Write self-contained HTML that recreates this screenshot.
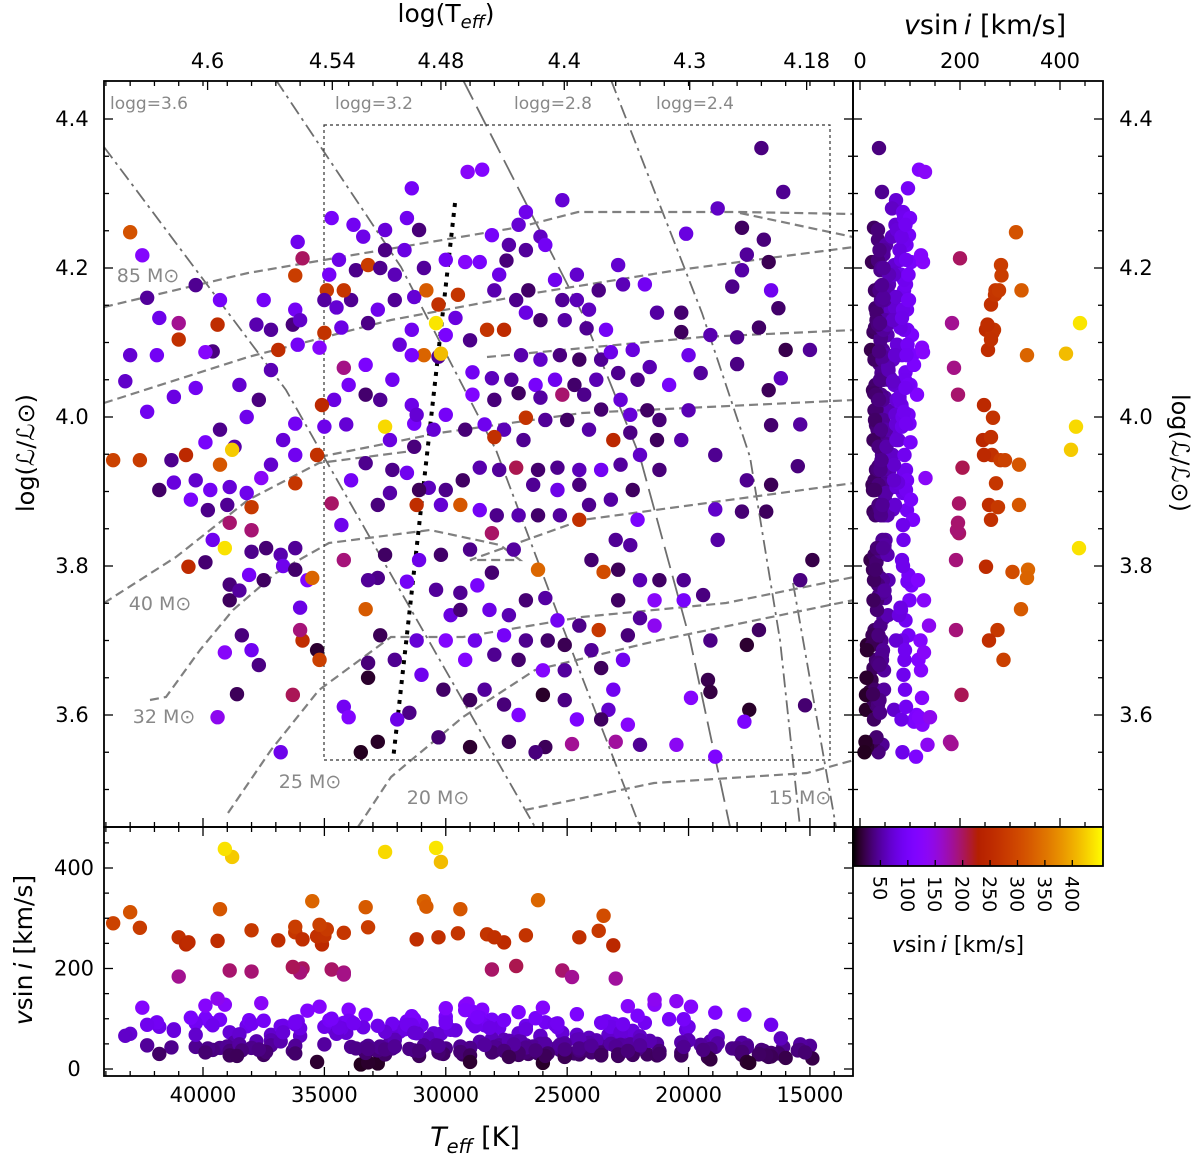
<!DOCTYPE html>
<html><head><meta charset="utf-8">
<style>
html,body{margin:0;padding:0;background:#fff;}
svg{display:block;font-family:"DejaVu Sans","Liberation Sans",sans-serif;}
</style></head>
<body>
<svg id="fig" width="1200" height="1156" viewBox="0 0 1200 1156" xmlns="http://www.w3.org/2000/svg">
<defs>
<clipPath id="cMain"><rect x="104" y="81" width="749" height="746"/></clipPath>
<clipPath id="cBot"><rect x="104" y="827" width="749" height="249"/></clipPath>
<clipPath id="cRight"><rect x="853" y="81" width="250" height="746"/></clipPath>
<linearGradient id="cbGrad" x1="0" x2="1" y1="0" y2="0"></linearGradient>
</defs>
<g id="gLines" clip-path="url(#cMain)"></g>
<g id="gMain" clip-path="url(#cMain)"></g>
<g id="gBot" clip-path="url(#cBot)"></g>
<g id="gRight" clip-path="url(#cRight)"></g>
<g id="gAxes"></g>
</svg>
<script>
// ---- data: each star = (Teff [kK], log L, vsini [km/s]) ----
const teffK = [
17.0,28.5,29.1,16.1,25.2,31.4,18.8,20.1,17.8,16.9,17.6,17.8,16.7,18.2,16.6,16.3,22.9,22.7,21.8,21.3,20.3,20.3,19.1,18.0,17.1,16.0,15.0,18.0,16.2,16.7,20.0,19.5,20.8,20.0,21.2,21.7,22.4,20.3,18.9,16.6,15.4,15.5,16.6,17.6,17.8,16.8,18.9,18.8,14.9,15.4,17.1,17.6,19.1,19.2,19.1,19.9,17.5,17.7,15.2,18.9,20.5,22.0,23.0,23.3,23.1,
26.7,27.0,28.1,27.4,26.1,25.9,26.7,27.5,27.8,28.6,29.2,28.0,27.1,26.6,25.5,25.2,24.6,24.6,23.7,24.1,23.4,24.2,25.1,26.1,26.7,27.6,28.3,29.0,30.0,29.6,
26.9,26.1,25.3,24.5,23.6,23.2,22.3,22.9,23.8,24.7,25.5,26.3,27.3,28.1,28.9,28.9,28.0,27.0,26.1,25.2,24.3,23.6,22.8,22.1,21.6,
26.7,26.8,27.6,28.4,29.2,30.0,30.5,25.9,25.0,24.1,23.1,22.4,21.3,22.0,22.8,23.6,24.5,25.4,26.2,27.1,27.8,28.6,29.3,30.0,30.7,31.1,26.4,25.4,24.5,24.1,23.2,22.3,21.2,
24.5,25.3,26.2,27.0,27.9,28.6,29.4,30.2,31.2,31.6,31.3,22.1,23.0,24.0,22.4,22.9,23.5,22.0,21.2,21.4,20.2,20.2,19.4,22.9,22.0,23.7,24.5,25.4,25.9,26.7,27.4,28.2,27.6,26.7,25.8,25.1,24.0,22.5,21.4,22.7,23.6,25.1,26.0,27.0,28.0,28.8,29.2,
29.8,29.4,28.7,28.1,27.2,26.2,28.1,29.0,30.2,31.1,31.6,30.4,29.4,30.0,31.2,32.7,32.1,31.0,30.1,29.0,28.4,27.6,27.0,26.0,25.1,24.6,23.6,22.5,25.9,26.3,24.8,27.4,29.0,30.3,31.5,32.0,32.8,33.5,34.2,34.0,33.2,33.2,33.3,32.8,32.5,33.2,
34.2,34.3,34.7,33.9,33.3,32.8,32.3,32.2,32.5,32.3,31.3,31.4,31.2,30.9,30.3,30.4,30.3,29.5,31.4,31.4,31.9,32.2,32.7,33.3,33.3,34.2,34.0,34.6,35.1,34.1,35.0,35.3,36.2,36.2,37.2,37.6,38.0,38.0,38.2,38.9,39.7,39.3,39.9,39.3,38.7,38.2,38.5,37.7,37.2,36.9,37.2,37.8,36.3,36.1,35.2,35.0,34.3,34.5,33.9,34.2,34.9,35.0,36.2,36.0,36.2,35.9,36.1,34.8,34.4,33.7,33.2,32.7,32.1,32.5,31.7,30.9,30.0,31.1,31.6,32.5,33.4,34.7,33.8,31.3,32.1,32.8,33.2,30.8,28.0,38.8,30.2,
43.0,42.5,42.3,41.8,43.0,41.9,43.2,42.3,41.2,41.0,41.0,40.3,39.3,39.4,39.6,39.9,40.3,40.7,41.3,41.8,42.6,43.7,41.2,40.3,40.5,39.8,39.6,39.1,38.9,39.0,39.9,40.6,38.9,38.9,38.5,38.1,37.5,38.0,37.4,36.8,36.7,36.2,36.2,35.7,35.5,36.0,35.9,36.0,35.3,35.2,36.3,37.7,38.0,38.4,38.6,39.1,39.4,36.8,36.2,36.7,37.5
];
const logL = [
4.361,4.332,4.329,4.302,4.291,4.307,4.28,4.246,4.254,4.238,4.218,4.197,4.208,4.175,4.17,4.146,4.204,4.178,4.178,4.14,4.14,4.114,4.11,4.107,4.12,4.09,4.09,4.071,4.052,4.036,4.083,4.059,4.043,4.009,3.996,4.009,4.003,3.969,3.949,3.989,3.99,3.934,3.909,3.915,3.873,3.873,3.876,3.835,3.808,3.781,3.714,3.694,3.70,3.647,3.631,3.623,3.607,3.591,3.613,3.544,3.56,3.56,3.564,3.607,3.634,
4.275,4.258,4.244,4.231,4.242,4.231,4.224,4.21,4.191,4.208,4.208,4.17,4.157,4.17,4.184,4.157,4.191,4.157,4.17,4.144,4.117,4.119,4.13,4.13,4.14,4.117,4.117,4.103,4.11,4.133,
4.083,4.077,4.083,4.077,4.077,4.087,4.09,4.059,4.05,4.043,4.05,4.043,4.05,4.052,4.06,4.03,4.023,4.032,4.026,4.03,4.03,4.01,4.023,4.05,4.067,
3.999,3.969,3.983,3.99,3.983,4.003,3.983,3.996,3.996,3.983,3.969,3.979,3.969,3.949,3.936,3.929,3.929,3.932,3.929,3.932,3.929,3.932,3.915,3.902,3.905,3.902,3.909,3.902,3.909,3.882,3.889,3.902,3.929,
3.862,3.868,3.868,3.868,3.868,3.875,3.882,3.882,3.882,3.925,3.96,3.862,3.835,3.808,3.828,3.795,3.792,3.781,3.781,3.754,3.781,3.754,3.761,3.754,3.73,3.714,3.72,3.727,3.757,3.754,3.734,3.741,3.707,3.70,3.70,3.694,3.687,3.707,3.72,3.674,3.663,3.66,3.66,3.674,3.681,3.70,3.674,
3.734,3.764,3.774,3.791,3.822,3.795,3.844,3.822,3.815,3.808,3.779,3.768,3.741,3.70,3.70,3.707,3.674,3.654,3.634,3.62,3.634,3.614,3.60,3.627,3.62,3.594,3.594,3.587,3.557,3.55,3.561,3.564,3.557,3.57,3.603,3.594,3.564,3.55,3.611,3.597,3.67,3.65,3.742,3.784,3.815,3.781,
3.808,3.855,3.884,3.915,3.938,3.882,3.898,3.929,3.987,3.969,3.991,4.016,4.003,4.083,4.081,4.126,4.151,4.164,4.083,4.117,4.097,4.05,4.023,4.03,4.07,4.066,4.043,4.023,4.016,3.99,3.987,3.949,3.949,3.911,3.936,3.918,3.879,3.848,3.898,3.906,3.902,3.936,3.966,3.983,3.96,4.0,4.043,4.023,4.063,4.09,4.117,4.124,4.124,4.097,4.093,4.113,4.12,4.147,4.157,4.17,4.17,4.157,4.144,4.13,4.19,4.213,4.235,4.191,4.211,4.197,4.204,4.2,4.191,4.224,4.224,4.2,4.211,4.251,4.267,4.251,4.242,4.267,4.258,4.161,4.157,4.144,4.126,4.17,3.973,3.956,4.085,
4.248,4.217,4.16,4.133,4.083,4.083,4.048,4.007,4.027,4.104,4.126,4.177,4.157,4.124,4.088,4.087,4.039,3.949,3.942,3.902,3.942,3.942,3.912,3.915,3.889,3.875,3.835,3.824,3.858,3.882,3.805,3.799,3.775,3.754,3.767,3.788,3.781,3.819,3.824,3.815,3.8,3.824,3.795,3.781,3.784,3.744,3.70,3.714,3.687,3.674,3.627,3.667,3.687,3.707,3.628,3.684,3.597,3.55,3.991,3.969,4.157
];
const vsini = [
38,118,130,44,72,96,64,78,28,36,47,52,24,41,88,31,69,58,92,50,33,27,55,42,30,22,46,39,61,26,84,48,99,57,35,29,73,53,44,32,49,37,25,43,34,27,66,51,21,38,29,14,40,23,19,124,12,108,33,112,135,45,180,68,90,
86,71,98,52,64,93,47,36,82,102,126,55,42,30,88,46,68,58,39,62,95,44,51,33,79,252,268,41,104,77,
54,66,38,29,45,84,76,43,57,31,89,101,47,60,91,114,36,28,50,196,42,33,73,40,56,
266,44,58,87,35,97,71,46,30,52,246,39,27,65,48,92,59,43,32,205,47,54,29,41,61,26,45,83,37,43,50,28,36,
262,48,31,55,42,94,318,70,258,88,37,106,45,33,49,26,305,57,30,128,44,99,38,29,47,275,41,91,50,34,56,82,97,43,31,24,46,36,138,89,27,48,122,32,44,85,117,
78,45,103,33,49,336,198,42,31,84,95,47,34,121,72,25,44,87,30,27,48,36,113,12,39,109,28,125,26,37,183,24,14,33,40,83,11,9,92,118,36,13,322,41,29,46,
192,86,198,94,43,37,52,41,432,77,99,83,71,334,46,440,262,270,105,88,74,90,45,32,108,188,96,79,248,72,84,264,89,272,68,131,276,194,86,73,92,318,101,42,53,85,69,38,57,256,47,55,36,95,124,265,81,70,44,271,278,49,94,66,283,200,87,97,82,41,282,43,58,39,79,47,92,36,88,74,83,100,91,72,45,86,40,323,262,422,412,
312,122,47,84,70,93,66,88,79,262,184,44,98,255,38,126,91,248,43,30,281,290,76,68,102,41,87,438,196,45,33,252,36,27,49,97,28,42,34,55,86,46,31,116,334,81,258,192,14,287,203,39,90,37,26,128,140,85,92,73,96
];
// axis tick values
const teffTicks = [40000,35000,30000,25000,20000,15000];
const logTeffTicks = [4.6,4.54,4.48,4.4,4.3,4.18];
const lumTicks = [3.6,3.8,4.0,4.2,4.4];
const vTicks = [0,200,400];
const cbTicks = [50,100,150,200,250,300,350,400];

// ---- scales ----
const xT = t => 203 + (40000 - t) / 41.19;
const yL = l => 119 + (4.4 - l) * 745;
const xV = v => 860 + v * 0.5;
const yV = v => 1069 - v * 0.5025;
const VMAX = 456;
function cmap(v){
  let x = Math.max(0, Math.min(1, v / VMAX));
  const r = Math.sqrt(x), g = x*x*x, b = Math.max(0, Math.sin(2*Math.PI*x));
  return `rgb(${Math.round(r*255)},${Math.round(g*255)},${Math.round(b*255)})`;
}
const NS = 'http://www.w3.org/2000/svg';
function mk(tag, attrs, parent){
  const e = document.createElementNS(NS, tag);
  for (const k in attrs) e.setAttribute(k, attrs[k]);
  parent.appendChild(e); return e;
}
const gLines = document.getElementById('gLines');
const gMain = document.getElementById('gMain');
const gBot = document.getElementById('gBot');
const gRight = document.getElementById('gRight');
const gAxes = document.getElementById('gAxes');

// ---- model lines (pixel-sketched decorations) ----
const iso = [
 {p:[[104,147],[286,390],[324,457],[535,827]], d:'14,5,3,5'},
 {p:[[276,80],[401,267],[496,450],[560,620],[640,827]], d:'14,5,3,5'},
 {p:[[463,80],[582,313],[640,457],[690,640],[730,827]], d:'22,8'},
 {p:[[611,80],[702,313],[750,457],[780,640],[800,827]], d:'14,5,3,5'},
 {p:[[793,583],[836,827]], d:'14,5,3,5'}
];
iso.forEach(o=>{
  const pl = mk('polyline',{points:o.p.map(q=>q.join(',')).join(' '),fill:'none',stroke:'#6e6e6e','stroke-width':1.8,'stroke-dasharray':o.d},gLines);
  
  
});
const tracks = [
 [[104,307],[248,273],[353,255],[520,227],[578,212],[740,212],[853,214]],
 [[740,213],[853,237]],
 [[104,403],[248,357],[391,320],[535,293],[678,270],[854,247]],
 [[487,357],[702,337],[854,330]],
 [[319,457],[439,433],[582,413],[854,400]],
 [[104,603],[176,557],[248,500],[319,463],[420,450]],
 [[150,700],[166,697],[200,650],[233,610],[276,573],[329,543],[430,530],[500,545],[520,560],[470,560],[582,520],[854,483]],
 [[228,813],[271,750],[319,690],[391,637],[463,637],[582,617],[726,603],[854,577]],
 [[358,827],[391,777],[463,717],[535,670],[660,640],[854,600]],
 [[525,810],[654,783],[807,773],[854,760]]
];
tracks.forEach(t=>{
  const pl = mk('polyline',{points:t.map(q=>q.join(',')).join(' '),fill:'none',stroke:'#808080','stroke-width':2.2,'stroke-dasharray':'9,5'},gLines);
  
  
});
const box = mk('rect',{x:324,y:125,width:506,height:635,fill:'none',stroke:'#333','stroke-width':1.2,'stroke-dasharray':'3,3'},gLines);


const dotted = mk('line',{x1:455,y1:203,x2:393,y2:760,stroke:'#000','stroke-width':4,'stroke-dasharray':'4,6'},gLines);



// ---- scatter marks ----
for (let i = 0; i < teffK.length; i++){
  const T = teffK[i]*1000, L = logL[i], v = vsini[i], c = cmap(v);
  const a = mk('circle',{cx:xT(T),cy:yL(L),r:7.2,fill:c},gMain);
  
  
  const b = mk('circle',{cx:xT(T),cy:yV(v),r:7.2,fill:c},gBot);
  
  
  const d = mk('circle',{cx:xV(v),cy:yL(L),r:7.2,fill:c},gRight);
  
  
}

// ---- text helpers ----
function txt(s, x, y, o, name){
  const t = mk('text',{x:x,y:y,'font-size':o.fs||20,fill:o.fill||'#000','text-anchor':o.anchor||'middle'},gAxes);
  if (o.rot) t.setAttribute('transform',`rotate(${o.rot} ${x} ${y})`);
  if (o.style) t.setAttribute('font-style',o.style);
  t.textContent = s;
  
  
  return t;
}
// parts: [string, italic, baselineShift(px), sizeFactor]
function rich(parts, x, y, o, name){
  const t = mk('text',{x:x,y:y,'font-size':o.fs||20,fill:'#000','text-anchor':'middle'},gAxes);
  if (o.rot) t.setAttribute('transform',`rotate(${o.rot} ${x} ${y})`);
  parts.forEach(p=>{
    const s = mk('tspan',{},t);
    if (p[1]) s.setAttribute('font-style','italic');
    if (p[2]) s.setAttribute('dy',p[2]);
    if (p[3]) s.setAttribute('font-size',(o.fs||20)*p[3]);
    s.textContent = p[0];
  });
  
  
  return t;
}
function tick(x1,y1,x2,y2){
  const l = mk('line',{x1,y1,x2,y2,stroke:'#000','stroke-width':1.3},gAxes);
  
  
}
// labels in main panel
const gl = [['logg=3.6',149],['logg=3.2',374],['logg=2.8',553],['logg=2.4',695]];
gl.forEach(g=>txt(g[0],g[1],109,{fs:17,fill:'#888'},'logg-label'));
const ml = [['85 M\u2299',148,282],['40 M\u2299',160,610],['32 M\u2299',164,723],['25 M\u2299',310,788],['20 M\u2299',438,804],['15 M\u2299',800,804]];
ml.forEach(m=>txt(m[0],m[1],m[2],{fs:19,fill:'#888'},'mass-track-label'));

// frames
[[104,81,749,746,'main-frame'],[104,827,749,249,'bottom-frame'],[853,81,250,746,'right-frame']].forEach(f=>{
  const r = mk('rect',{x:f[0],y:f[1],width:f[2],height:f[3],fill:'none',stroke:'#000','stroke-width':1.8},gAxes);
  
  
});
// colorbar
const grad = document.getElementById('cbGrad');
for (let k=0;k<=40;k++){ mk('stop',{offset:(k/40),'stop-color':cmap(VMAX*k/40)},grad); }
const cb = mk('rect',{x:853,y:827,width:250,height:39,fill:'url(#cbGrad)',stroke:'#000','stroke-width':1.8},gAxes);


cbTicks.forEach(v=>{
  const x = 853 + v*250/VMAX;
  tick(x,866,x,860);
  txt(String(v),x-7,876,{fs:19,anchor:'start',rot:90},'colorbar-tick-label');
});
rich([['v',true],['sin\u2009'],['i',true],['  [km/s]']],958,952,{fs:22},'colorbar-title');

// x ticks (Teff) main bottom & bottom panel
for (let t=14000;t<=44000;t+=1000){
  const x = xT(t); if (x<104||x>853) continue;
  const major = t%5000===0, len = major?9:5;
  tick(x,1076,x,1076-len); tick(x,827,x,827-len); tick(x,827,x,827+len);
  tick(x,81,x,86);
}
teffTicks.forEach(t=>txt(String(t),xT(t),1102,{fs:21},'teff-tick-label'));
logTeffTicks.forEach(v=>{const x=xT(Math.pow(10,v)); tick(x,81,x,90); txt(String(v),x,68,{fs:21},'logteff-tick-label');});
rich([['T',true],['eff',true,7,0.72],['  [K]',false,-7]],475,1146,{fs:27},'teff-axis-title');
rich([['log(T'],['eff',true,6,0.72],[')',false,-6]],446,22,{fs:25},'logteff-axis-title');
// y ticks (log L)
for (let l=3.45;l<=4.451;l+=0.05){
  const y = yL(l); if (y<82||y>826) continue;
  const major = Math.abs(Math.round(l*10)/10-l)<1e-6 && Math.round(l*10)%2===0;
  const len = major?9:5;
  tick(104,y,104+len,y); tick(853,y,853-len,y); tick(853,y,853+len,y); tick(1103,y,1103-len,y);
}
lumTicks.forEach(l=>{txt(l.toFixed(1),72,yL(l)+7,{fs:21},'lum-tick-label');txt(l.toFixed(1),1136,yL(l)+7,{fs:21},'lum-tick-label-right');});
txt('log(\u2112/\u2112\u2299)',34,453,{fs:24,rot:-90},'lum-axis-title');
txt('log(\u2112/\u2112\u2299)',1172,453,{fs:24,rot:90},'lum-axis-title-right');
// vsini ticks bottom panel y
for (let v=0;v<=480;v+=50){
  const y=yV(v); if (y<828) continue;
  const len = v%200===0?9:5;
  tick(104,y,104+len,y); tick(853,y,853-len,y);
}
vTicks.forEach(v=>txt(String(v),74,yV(v)+7,{fs:21},'vsini-tick-label'));
rich([['v',true],['sin\u2009'],['i',true],['  [km/s]']],32,950,{fs:25,rot:-90},'vsini-axis-title');
// right panel top ticks
for (let v=0;v<=480;v+=50){
  const x=xV(v); if (x>1102) continue;
  const len = v%200===0?9:5;
  tick(x,81,x,81+len); tick(x,827,x,827-len);
}
vTicks.forEach(v=>txt(String(v),xV(v),68,{fs:21},'vsini-top-tick-label'));
rich([['v',true],['sin\u2009'],['i',true],['  [km/s]']],985,34,{fs:27},'vsini-top-axis-title');
</script>
</body></html>
